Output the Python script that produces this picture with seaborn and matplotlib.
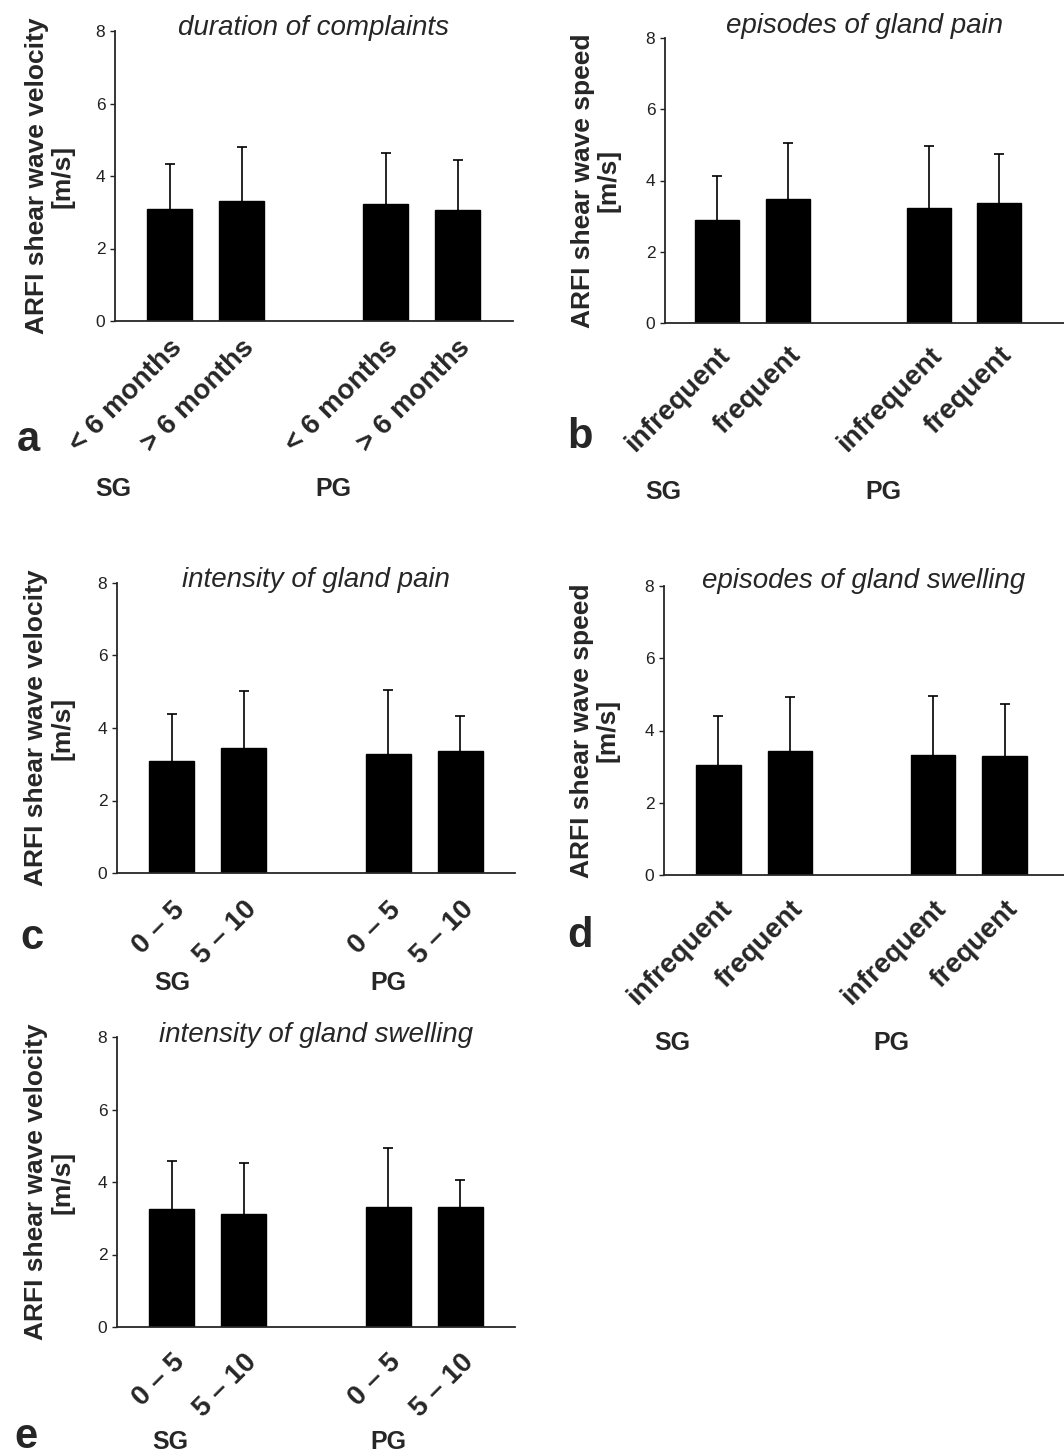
import numpy as np
import pandas as pd
import seaborn as sns
import matplotlib.pyplot as plt

sns.set_style("ticks")
plt.rcParams['font.family'] = ['Liberation Sans', 'DejaVu Sans']

# values (mean and upper SD) per panel
groups = ['SG', 'SG', 'PG', 'PG']
cats_months = ['< 6 months', '> 6 months', '< 6 months', '> 6 months']
cats_freq = ['infrequent', 'frequent', 'infrequent', 'frequent']
cats_score = ['0 – 5', '5 – 10', '0 – 5', '5 – 10']

mean_a = [3.08, 3.32, 3.22, 3.06]
sd_a = [1.24, 1.49, 1.42, 1.37]
mean_b = [2.89, 3.47, 3.22, 3.37]
sd_b = [1.25, 1.58, 1.75, 1.37]
mean_c = [3.10, 3.45, 3.29, 3.37]
sd_c = [1.29, 1.56, 1.75, 0.95]
mean_d = [3.05, 3.43, 3.32, 3.30]
sd_d = [1.36, 1.51, 1.64, 1.44]
mean_e = [3.25, 3.13, 3.30, 3.32]
sd_e = [1.33, 1.39, 1.65, 0.73]

titles = ['duration of complaints', 'episodes of gland pain', 'intensity of gland pain',
          'episodes of gland swelling', 'intensity of gland swelling']
ylabels = ['ARFI shear wave velocity\n[m/s]', 'ARFI shear wave speed\n[m/s]',
           'ARFI shear wave velocity\n[m/s]', 'ARFI shear wave speed\n[m/s]',
           'ARFI shear wave velocity\n[m/s]']

W, H = 1064, 1455
fig = plt.figure(figsize=(W / 100, H / 100), dpi=100)


def px_axes(left, right, top, bottom):
    return fig.add_axes([left / W, 1 - bottom / H, (right - left) / W, (bottom - top) / H])


panels = [
    # (axes box px, xlim, cats, mean, sd, letter pos, SG pos, PG pos, labelpad, title baseline px, xtick pad)
    ((115, 513, 31, 321), (-0.757, 4.77), cats_months, mean_a, sd_a, 'a', (28, 440), (113, 489), (333, 489), 15, 35, 10),
    ((665, 1064, 38, 323), (-0.74, 4.92), cats_freq, mean_b, sd_b, 'b', (580, 437), (663, 492), (883, 492), 18, 33, 14),
    ((117, 515, 583, 873), (-0.76, 4.76), cats_score, mean_c, sd_c, 'c', (32, 938), (172, 983), (388, 983), 17, 587, 17),
    ((664, 1064, 586, 875), (-0.76, 4.83), cats_freq, mean_d, sd_d, 'd', (580, 936), (672, 1043), (891, 1043), 18, 588, 15),
    ((117, 515, 1037, 1327), (-0.76, 4.76), cats_score, mean_e, sd_e, 'e', (26, 1437), (170, 1442), (388, 1442), 17, 1042, 16),
]

for i, (box, xlim, cats, mean, sd, letter, p_let, p_sg, p_pg, lpad, tbase, xpad) in enumerate(panels):
    ax = px_axes(*box)
    # leave an empty slot between the SG and PG pairs
    slot = [j + (1 if groups[j] == 'PG' else 0) for j in range(len(mean))]
    df = pd.DataFrame({'pos': slot, 'mean': mean, 'sd': sd, 'cat': cats, 'group': groups})
    sns.barplot(data=df, x='pos', y='mean', native_scale=True, width=0.625,
                color='black', edgecolor='black', linewidth=1, errorbar=None, ax=ax)
    eb = ax.errorbar(df['pos'], df['mean'], yerr=[np.zeros(len(df)), df['sd']], fmt='none',
                     ecolor='black', elinewidth=1.2, capsize=3.5, capthick=1.2, zorder=1)
    eb[1][0].set_visible(False)  # no cap at the lower end
    ax.set_xlim(*xlim)
    ax.set_ylim(0, 8)
    ax.set_yticks([0, 2, 4, 6, 8])
    ax.tick_params(axis='y', labelsize=12.5, length=3.5, width=1, colors='#222222')
    ax.set_xticks(df['pos'])
    ax.set_xticklabels(df['cat'], rotation=45, ha='right', rotation_mode='anchor',
                       fontsize=20, fontweight='bold')
    ax.tick_params(axis='x', length=0, pad=xpad)
    ax.set_xlabel('')
    ax.set_ylabel(ylabels[i], fontsize=19, fontweight='bold', labelpad=lpad, linespacing=1.1)
    for s in ['top', 'right']:
        ax.spines[s].set_visible(False)
    for s in ['left', 'bottom']:
        ax.spines[s].set_linewidth(1.3)
    fig.text((box[0] + box[1]) / 2 / W, 1 - tbase / H, titles[i], ha='center', va='baseline',
             fontsize=20, style='italic')

    fig.text(p_let[0] / W, 1 - p_let[1] / H, letter, ha='center', va='center',
             fontsize=30, fontweight='bold')
    fig.text(p_sg[0] / W, 1 - p_sg[1] / H, 'SG', ha='center', va='center',
             fontsize=18, fontweight='bold')
    fig.text(p_pg[0] / W, 1 - p_pg[1] / H, 'PG', ha='center', va='center',
             fontsize=18, fontweight='bold')

fig.savefig('out.png', dpi=100)
